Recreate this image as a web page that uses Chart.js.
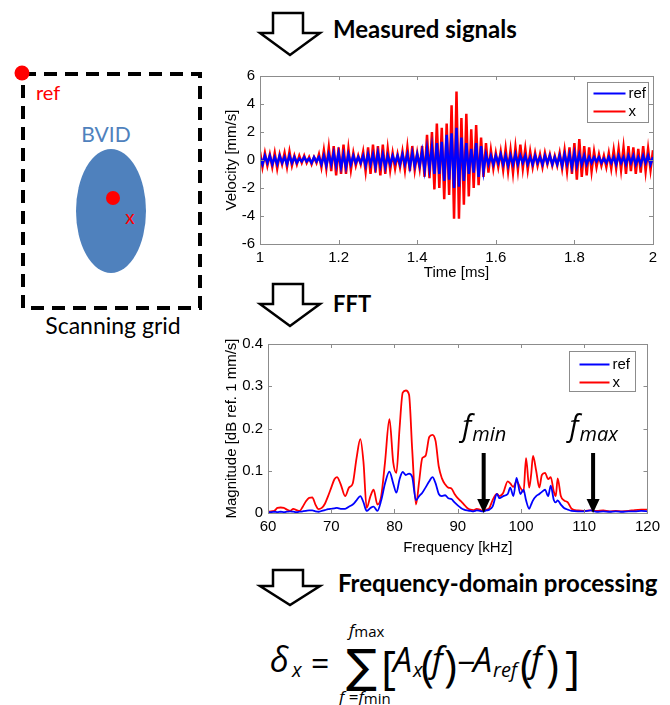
<!DOCTYPE html>
<html lang="en">
<head>
<meta charset="UTF-8">
<title>BVID detection</title>
<script src="https://cdn.jsdelivr.net/npm/chart.js"></script>
<style>
    html, body { margin: 0; padding: 0; background: #fff; }
    body { width: 670px; height: 705px; position: relative; overflow: hidden; }
    #diagram { position: absolute; left: 0; top: 0; }
    #diagram text { font-family: Lato, 'DejaVu Sans', sans-serif; }
    #diagram .math { font-family: 'Open Sans', 'DejaVu Sans', sans-serif; }
    .chartBox { position: absolute; left: 215px; }
    #signalBox { top: 62px; }
    #fftBox { top: 330px; }
</style>
</head>
<body>

<svg id="diagram" width="670" height="705">
    <!-- scanning grid with the damaged area -->
    <rect x="23" y="74" width="177" height="234" fill="none" stroke="#000" stroke-width="4" stroke-dasharray="13 8"/>
    <ellipse cx="111" cy="211" rx="35" ry="62" fill="#4f81bd"/>
    <circle cx="22" cy="73" r="7.5" fill="#ff0000"/>
    <circle cx="113" cy="198" r="7" fill="#ff0000"/>
    <text x="36" y="100" font-size="20" fill="#ff0000">ref</text>
    <text x="106" y="142" font-size="21" fill="#4f81bd" text-anchor="middle">BVID</text>
    <text x="130" y="224" font-size="19" fill="#ff0000" text-anchor="middle">x</text>
    <text x="113" y="334" font-size="23" text-anchor="middle">Scanning grid</text>

    <!-- processing steps -->
    <polygon points="273,13 303,13 303,33 320,33 290,55 260,33 273,33" fill="#fff" stroke="#000" stroke-width="2.5"/>
    <text x="333" y="38" font-size="24" font-weight="bold">Measured signals</text>
    <polygon points="273,284 303,284 303,304 320,304 290,326 260,304 273,304" fill="#fff" stroke="#000" stroke-width="2.5"/>
    <text x="333" y="312" font-size="22" font-weight="bold">FFT</text>
    <polygon points="273,570 303,570 303,586 320,586 290,605 260,586 273,586" fill="#fff" stroke="#000" stroke-width="2.5"/>
    <text x="338" y="592" font-size="24" font-weight="bold">Frequency-domain processing</text>

    <!-- damage index -->
    <text class="math" x="270" y="672" font-size="34" font-style="italic">δ</text>
    <text class="math" x="292" y="677" font-size="20" font-style="italic">x</text>
    <text class="math" x="311" y="675" font-size="32">=</text>
    <text x="346" y="682" font-size="46" style="font-family:'DejaVu Sans'">∑</text>
    <text class="math" x="349" y="636" font-size="17"><tspan font-style="italic">f</tspan><tspan font-size="15" dy="1">max</tspan></text>
    <text class="math" x="339" y="703" font-size="17"><tspan font-style="italic">f</tspan> =<tspan font-style="italic">f</tspan><tspan font-size="15" dy="1">min</tspan></text>
    <text class="math" x="381" y="684" font-size="46">[</text>
    <text class="math" x="393" y="672" font-size="34" font-style="italic">A</text>
    <text class="math" x="413" y="677" font-size="20" font-style="italic">x</text>
    <text class="math" x="421" y="681" font-size="44">(</text>
    <text class="math" x="432" y="672" font-size="34" font-style="italic">f</text>
    <text class="math" x="444" y="681" font-size="44">)</text>
    <text class="math" x="457" y="674" font-size="32">−</text>
    <text class="math" x="473" y="672" font-size="34" font-style="italic">A</text>
    <text class="math" x="493" y="677" font-size="20" font-style="italic">ref</text>
    <text class="math" x="520" y="681" font-size="44">(</text>
    <text class="math" x="531" y="672" font-size="34" font-style="italic">f</text>
    <text class="math" x="546" y="681" font-size="44">)</text>
    <text class="math" x="565" y="684" font-size="46">]</text>
</svg>

<div class="chartBox" id="signalBox"><canvas id="signalChart" width="450" height="225"></canvas></div>
<div class="chartBox" id="fftBox"><canvas id="fftChart" width="450" height="230"></canvas></div>

<script>
    // sampled velocity signals, one sample every 6.25 us starting at 1 ms
    const sampleStart = 1.0;
    const sampleStep = 0.00625;
    const refVelocity = [
        0.2,-0.3,0.3,-0.2,0.3,-0.3,0.2,-0.3,0.3,-0.2,0.2,-0.3,0.3,-0.2,0.2,-0.2,
        0.1,-0.1,0.2,-0.1,0.1,-0.2,0.2,-0.1,0.2,-0.3,0.3,-0.4,0.4,-0.3,0.5,-0.4,
        0.5,-0.5,0.4,-0.5,0.4,-0.3,0.3,-0.2,0.2,-0.2,0.3,-0.4,0.4,-0.3,0.4,-0.5,
        0.5,-0.4,0.4,-0.5,0.3,-0.3,0.3,-0.2,0.3,-0.3,0.4,-0.3,0.4,-0.5,0.5,-0.4,
        0.4,-0.4,0.6,-0.7,0.8,-0.6,0.9,-1.0,1.2,-1.0,1.3,-1.5,1.8,-1.4,1.9,-2.0,
        2.3,-1.9,1.6,-1.5,1.2,-1.0,0.8,-0.9,1.2,-1.2,1.0,-0.8,0.4,-0.3,0.3,-0.3,
        0.3,-0.2,0.4,-0.3,0.3,-0.4,0.3,-0.3,0.4,-0.3,0.3,-0.2,0.3,-0.3,0.2,-0.3,
        0.3,-0.2,0.2,-0.3,0.3,-0.2,0.3,-0.3,0.2,-0.3,0.3,-0.4,0.4,-0.3,0.4,-0.5,
        0.5,-0.4,0.4,-0.3,0.3,-0.3,0.2,-0.2,0.2,-0.1,0.2,-0.2,0.1,-0.2,0.2,-0.2,
        0.2,-0.3,0.3,-0.2,0.2,-0.3,0.3,-0.2,0.3,-0.3,0.2,-0.3,0.3,-0.2,0.3,-0.3,
        0.2
    ];
    const xVelocity = [
        0.6,-0.5,0.5,-0.4,0.4,-0.5,0.5,-0.6,0.4,-0.3,0.5,-0.5,0.6,-0.4,0.3,-0.3,
        0.3,-0.2,0.3,-0.2,0.2,-0.3,0.2,-0.2,0.4,-0.5,0.7,-0.6,0.9,-0.8,1.0,-1.1,
        0.9,-1.0,1.1,-1.0,0.8,-0.7,0.5,-0.4,0.3,-0.3,0.6,-0.8,0.9,-1.0,1.1,-0.9,
        1.0,-1.1,1.1,-1.0,0.8,-0.7,0.5,-0.6,0.4,-0.5,0.6,-0.7,0.9,-0.8,1.0,-0.7,
        0.5,-0.6,1.0,-1.2,1.8,-1.3,2.0,-2.1,2.6,-2.0,2.3,-2.8,2.6,-2.5,3.9,-4.2,
        4.9,-4.2,3.0,-3.2,3.3,-2.6,2.2,-2.0,2.5,-1.8,1.6,-1.2,1.2,-0.9,0.7,-0.6,
        0.5,-0.5,0.6,-0.7,0.8,-0.8,0.7,-0.9,0.9,-0.7,1.1,-0.6,0.8,-0.7,0.6,-0.5,
        0.5,-0.4,0.4,-0.5,0.5,-0.3,0.4,-0.4,0.3,-0.4,0.5,-0.6,0.7,-0.8,0.9,-1.0,
        1.2,-1.4,1.5,-1.2,1.0,-1.1,0.9,-0.8,0.6,-0.5,0.4,-0.4,0.3,-0.5,0.5,-0.6,
        0.7,-0.6,0.8,-0.7,0.9,-1.0,1.0,-0.8,0.9,-1.0,0.8,-0.9,1.0,-0.8,0.8,-0.7,
        0.7
    ];
    const timeTicks = [1, 1.2, 1.4, 1.6, 1.8, 2];
    const velocityTicks = [-6, -4, -2, 0, 2, 4, 6];

    // amplitude spectra (kHz)
    const frequency = [
        60, 60.5, 61, 61.5, 62, 62.5, 63, 63.5, 64, 64.5,
        65, 65.5, 66, 66.5, 67, 67.5, 68, 68.5, 69, 69.5,
        70, 70.5, 70.9, 71.5, 72.2, 72.8, 73.4, 74, 74.6, 75.1,
        75.6, 76.2, 76.7, 77.3, 77.9, 78.5, 79.2, 79.8, 80.3, 80.8,
        81.3, 81.8, 82.3, 82.8, 83.4, 83.9, 84.4, 84.9, 85.5, 86,
        86.5, 87, 87.5, 88, 88.5, 89, 89.5, 90, 90.5, 91,
        91.5, 92, 92.5, 93, 93.5, 94, 94.5, 95, 95.5, 96.2,
        96.6, 97.2, 97.9, 98.3, 98.8, 99.3, 99.9, 100.4, 100.8, 101.3,
        101.6, 101.9, 102.4, 102.9, 103.3, 103.8, 104.3, 104.7, 105.2, 105.5,
        105.8, 106.3, 106.8, 107.4, 108, 109, 110, 111, 112, 113,
        114, 115, 116, 117, 118, 119, 120
    ];
    const refMagnitude = [
        0.002, 0.002, 0.003, 0.002, 0.003, 0.002, 0.003, 0.004, 0.003, 0.002,
        0.003, 0.004, 0.005, 0.006, 0.006, 0.004, 0.003, 0.005, 0.007, 0.009,
        0.010, 0.011, 0.012, 0.010, 0.010, 0.015, 0.020, 0.030, 0.040, 0.025,
        0.005, 0.012, 0.015, 0.005, 0.030, 0.070, 0.098, 0.070, 0.048, 0.080,
        0.097, 0.090, 0.093, 0.085, 0.030, 0.040, 0.048, 0.060, 0.075, 0.085,
        0.070, 0.045, 0.040, 0.042, 0.035, 0.033, 0.025, 0.018, 0.012, 0.008,
        0.006, 0.005, 0.004, 0.006, 0.005, 0.004, 0.006, 0.008, 0.015, 0.045,
        0.035, 0.040, 0.045, 0.060, 0.040, 0.083, 0.045, 0.055, 0.030, 0.010,
        0.020, 0.030, 0.040, 0.045, 0.050, 0.055, 0.040, 0.065, 0.030, 0.025,
        0.030, 0.020, 0.012, 0.008, 0.005, 0.004, 0.004, 0.006, 0.003, 0.004,
        0.003, 0.004, 0.003, 0.004, 0.004, 0.005, 0.004
    ];
    const xMagnitude = [
        0.003, 0.004, 0.005, 0.012, 0.013, 0.012, 0.008, 0.005, 0.010, 0.007,
        0.005, 0.015, 0.028, 0.036, 0.037, 0.020, 0.009, 0.012, 0.022, 0.040,
        0.060, 0.080, 0.085, 0.068, 0.040, 0.060, 0.070, 0.130, 0.175, 0.120,
        0.012, 0.040, 0.055, 0.020, 0.040, 0.120, 0.222, 0.120, 0.095, 0.200,
        0.285, 0.290, 0.280, 0.150, 0.020, 0.075, 0.130, 0.135, 0.180, 0.185,
        0.170, 0.110, 0.082, 0.068, 0.060, 0.058, 0.045, 0.035, 0.028, 0.020,
        0.012, 0.008, 0.007, 0.010, 0.008, 0.005, 0.008, 0.012, 0.030, 0.045,
        0.040, 0.048, 0.075, 0.070, 0.062, 0.075, 0.060, 0.050, 0.130, 0.060,
        0.090, 0.135, 0.100, 0.060, 0.090, 0.095, 0.080, 0.085, 0.050, 0.040,
        0.082, 0.040, 0.030, 0.025, 0.010, 0.006, 0.005, 0.006, 0.005, 0.006,
        0.004, 0.005, 0.004, 0.005, 0.007, 0.008, 0.008
    ];
    const freqTicks = [60, 70, 80, 90, 100, 110, 120];
    const magnitudeTicks = [0, 0.1, 0.2, 0.3, 0.4];

    // integration band, where the two arrows point (kHz)
    const bandEdges = [94.1, 111.4];
    const bandNames = ['min', 'max'];

    const seriesNames = ['ref', 'x'];
    const seriesColors = ['#0000ff', '#ff0000'];

    const tickFont = { family: "'Liberation Sans', Arial, sans-serif", size: 15 };
    const titleFont = { family: "'Liberation Sans', Arial, sans-serif", size: 15 };
    const boxColor = '#8c8c8c';

    // boxed axes with inward ticks, boxed legend and band arrows
    const matlabAxes = {
        id: 'matlabAxes',
        afterDraw(chart, args, opts) {
            const { ctx, chartArea: a, scales } = chart;
            ctx.save();
            ctx.strokeStyle = boxColor;
            ctx.lineWidth = 1;
            ctx.strokeRect(Math.round(a.left) + 0.5, Math.round(a.top) + 0.5,
                Math.round(a.width), Math.round(a.height));
            ctx.beginPath();
            scales.x.ticks.forEach(t => {
                const px = Math.round(scales.x.getPixelForValue(t.value)) + 0.5;
                ctx.moveTo(px, a.bottom); ctx.lineTo(px, a.bottom - 4);
                ctx.moveTo(px, a.top); ctx.lineTo(px, a.top + 4);
            });
            scales.y.ticks.forEach(t => {
                const py = Math.round(scales.y.getPixelForValue(t.value)) + 0.5;
                ctx.moveTo(a.left, py); ctx.lineTo(a.left + 4, py);
                ctx.moveTo(a.right, py); ctx.lineTo(a.right - 4, py);
            });
            ctx.stroke();

            // band arrows
            (opts.markers || []).forEach(m => {
                const px = scales.x.getPixelForValue(m.value);
                const tip = a.bottom;
                ctx.fillStyle = '#000';
                ctx.fillRect(px - 2, m.top, 4, tip - 13 - m.top);
                ctx.beginPath();
                ctx.moveTo(px - 6.5, tip - 14);
                ctx.lineTo(px + 6.5, tip - 14);
                ctx.lineTo(px, tip);
                ctx.closePath();
                ctx.fill();
                ctx.font = "italic 29px 'Open Sans', sans-serif";
                const fw = ctx.measureText('f').width;
                ctx.font = "italic 20px 'Open Sans', sans-serif";
                const sw = ctx.measureText(m.name).width;
                const x0 = px - (fw + sw) / 2;
                ctx.textAlign = 'left';
                ctx.textBaseline = 'alphabetic';
                ctx.font = "italic 29px 'Open Sans', sans-serif";
                ctx.fillText('f', x0, m.top - 17);
                ctx.font = "italic 20px 'Open Sans', sans-serif";
                ctx.fillText(m.name, x0 + fw + 1, m.top - 12);
            });

            // legend
            const L = opts.legend;
            const bx = Math.round(a.right - L.right - L.width) + 0.5;
            const by = Math.round(a.top + L.top) + 0.5;
            ctx.fillStyle = '#fff';
            ctx.fillRect(bx, by, L.width, L.height);
            ctx.strokeStyle = boxColor;
            ctx.strokeRect(bx, by, L.width, L.height);
            ctx.font = "15px 'Liberation Sans', Arial, sans-serif";
            ctx.textBaseline = 'middle';
            ctx.textAlign = 'left';
            chart.data.datasets.forEach((ds, i) => {
                const y = by + L.rows[i];
                ctx.strokeStyle = ds.borderColor;
                ctx.lineWidth = 2;
                ctx.beginPath();
                ctx.moveTo(bx + L.lineStart, y);
                ctx.lineTo(bx + L.lineEnd, y);
                ctx.stroke();
                ctx.fillStyle = '#000';
                ctx.fillText(ds.label, bx + L.textX, y);
            });
            ctx.restore();
        }
    };

    function makeAxis(min, max, ticks, title, size, titlePad) {
        return {
            type: 'linear',
            min: min,
            max: max,
            afterBuildTicks: s => { s.ticks = ticks.map(v => ({ value: v })); },
            afterFit: s => {
                if (s.isHorizontal()) s.height = size; else s.width = size;
            },
            grid: { display: false, drawTicks: false },
            border: { display: false },
            ticks: {
                color: '#000', font: tickFont, padding: 5,
                autoSkip: false, maxRotation: 0,
                callback: v => String(v)
            },
            title: { display: true, text: title, color: '#000', font: titleFont, padding: titlePad }
        };
    }

    function toPoints(xs, ys) {
        return ys.map((y, i) => ({ x: xs[i], y: y }));
    }

    const sampleTimes = xVelocity.map((v, i) => sampleStart + i * sampleStep);

    new Chart(document.getElementById('signalChart'), {
        type: 'line',
        data: {
            datasets: [
                { label: seriesNames[0], data: toPoints(sampleTimes, refVelocity), borderColor: seriesColors[0], borderWidth: 2.5, pointRadius: 0, tension: 0 },
                { label: seriesNames[1], data: toPoints(sampleTimes, xVelocity), borderColor: seriesColors[1], borderWidth: 2.5, pointRadius: 0, tension: 0 }
            ]
        },
        options: {
            responsive: false,
            animation: false,
            layout: { padding: { top: 9, right: 12, left: 0, bottom: 0 } },
            scales: {
                x: makeAxis(1, 2, timeTicks, 'Time [ms]', 43, { top: 0, bottom: 5 }),
                y: makeAxis(-6, 6, velocityTicks, 'Velocity [mm/s]', 45, { top: 8, bottom: 0 })
            },
            plugins: {
                legend: { display: false },
                tooltip: { enabled: false },
                matlabAxes: {
                    legend: { right: 5, top: 6, width: 61, height: 40, lineStart: 6, lineEnd: 38, textX: 41, rows: [11, 29] }
                }
            }
        },
        plugins: [matlabAxes]
    });

    new Chart(document.getElementById('fftChart'), {
        type: 'line',
        data: {
            datasets: [
                { label: seriesNames[0], data: toPoints(frequency, refMagnitude), borderColor: seriesColors[0], borderWidth: 1.8, pointRadius: 0, cubicInterpolationMode: 'monotone' },
                { label: seriesNames[1], data: toPoints(frequency, xMagnitude), borderColor: seriesColors[1], borderWidth: 1.8, pointRadius: 0, cubicInterpolationMode: 'monotone' }
            ]
        },
        options: {
            responsive: false,
            animation: false,
            layout: { padding: { top: 10, right: 12, left: 0, bottom: 0 } },
            scales: {
                x: makeAxis(60, 120, freqTicks, 'Frequency [kHz]', 47, { top: 0, bottom: 3 }),
                y: makeAxis(0, 0.4, magnitudeTicks, 'Magnitude [dB ref. 1 mm/s]', 53, { top: 8, bottom: 0 })
            },
            plugins: {
                legend: { display: false },
                tooltip: { enabled: false },
                matlabAxes: {
                    legend: { right: 12, top: 7, width: 66, height: 40, lineStart: 10, lineEnd: 40, textX: 43, rows: [13, 31] },
                    markers: bandEdges.map((v, i) => ({ value: v, name: bandNames[i], top: 123 }))
                }
            }
        },
        plugins: [matlabAxes]
    });
</script>
</body>
</html>
